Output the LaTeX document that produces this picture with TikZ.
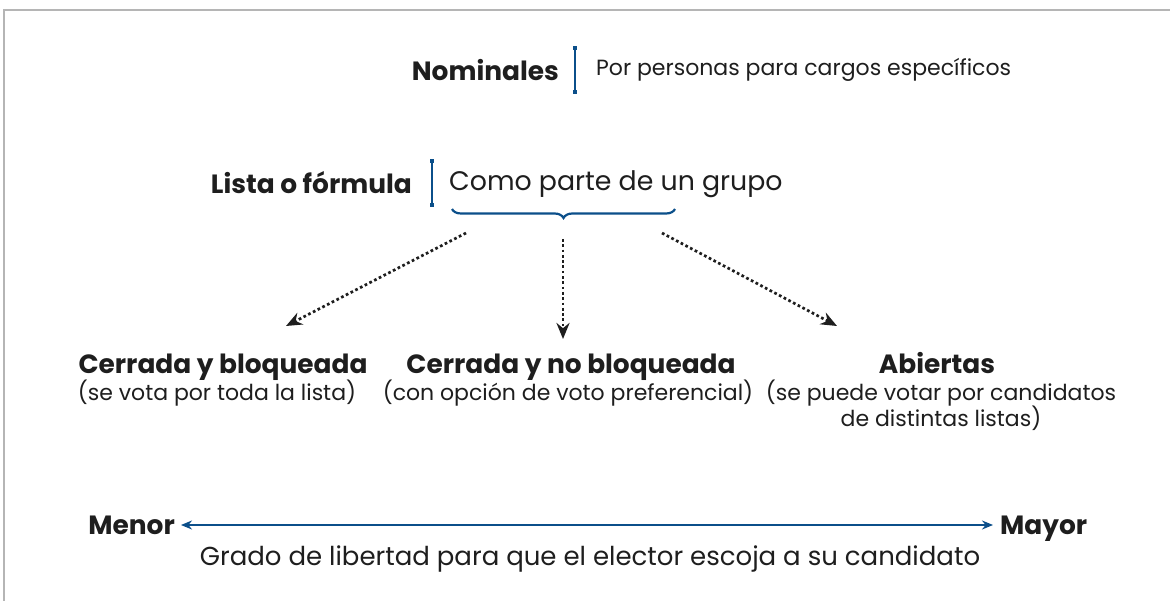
\documentclass[tikz,border=0pt]{standalone}
\usepackage{fontspec}
\setmainfont{Poppins}
\usetikzlibrary{arrows.meta,decorations.pathreplacing,calc}
\definecolor{navy}{HTML}{0B4F8A}
\definecolor{ink}{HTML}{1E1E1E}
\definecolor{frame}{HTML}{B5B5B5}
\tikzset{
  lbl/.style={inner sep=0pt, text=ink},
  boldlbl/.style={lbl, font=\bfseries\fontsize{26.4}{30}\selectfont},
  reglbl/.style={lbl, font=\fontsize{22}{25}\selectfont},
  bar/.style={draw=navy, line width=1.6pt},
  barend/.style={fill=navy, minimum size=4.5pt, inner sep=0pt, draw=none},
  dotarrow/.style={draw=ink, line width=2.7pt, dash pattern=on 2.7pt off 2.6pt, -{Stealth[length=16pt,width=13pt,fill=ink]}},
  scalearrow/.style={draw=navy, line width=2.2pt, {Stealth[length=11pt,width=9pt]}-{Stealth[length=11pt,width=9pt]}}
}
\begin{document}
\begin{tikzpicture}[x=1pt,y=-1pt]
\useasboundingbox (0,0) rectangle (1170,601);
\fill[white] (0,0) rectangle (1170,601);
\draw[frame, line width=2pt] (3.5,601) -- (3.5,10.5) -- (1170,10.5);

% Nominales
\node[boldlbl, anchor=east] (nom) at (559,70) {Nominales};
\coordinate (nb1) at (575,48);
\coordinate (nb2) at (575,92);
\draw[bar] (nb1) -- (nb2);
\node[barend] at (nb1) {};
\node[barend] at (nb2) {};
\node[reglbl, anchor=west] (nomd) at (596,70) {Por personas para cargos específicos};

% Lista o formula
\node[boldlbl, anchor=east] (lis) at (412,183) {Lista o fórmula};
\coordinate (lb1) at (432,161);
\coordinate (lb2) at (432,205);
\draw[bar] (lb1) -- (lb2);
\node[barend] at (lb1) {};
\node[barend] at (lb2) {};
\node[lbl, anchor=west, font=\fontsize{26.8}{31}\selectfont] (lisd) at (449,184) {Como parte de un grupo};

% brace
\coordinate (brl) at (452,209);
\coordinate (brr) at (675,209);
\draw[navy, line width=2.2pt, decorate, decoration={brace, mirror, amplitude=9pt, aspect=0.5}] (brl) -- (brr);

% options
\node[boldlbl, anchor=base] (c1) at (223,373.5) {Cerrada y bloqueada};
\node[reglbl, anchor=base] (c1d) at (217,401) {(se vota por toda la lista)};
\node[boldlbl, anchor=base] (c2) at (571,373.5) {Cerrada y no bloqueada};
\node[reglbl, anchor=base] (c2d) at (568,401) {(con opción de voto preferencial)};
\node[boldlbl, anchor=base] (c3) at (937,373.5) {Abiertas};
\node[reglbl, anchor=base] (c3d) at (941,401) {(se puede votar por candidatos};
\node[reglbl, anchor=base] (c3e) at (941,426) {de distintas listas)};

% dotted arrows
\coordinate (s1) at (466,233);
\coordinate (s2) at (563,239);
\coordinate (s3) at (662,233);
\coordinate (e1) at (286,326);
\coordinate (e2) at (563,339);
\coordinate (e3) at (837,326);
\draw[dotarrow] (s1) -- (e1);
\draw[dotarrow] (s2) -- (e2);
\draw[dotarrow] (s3) -- (e3);

% scale
\node[boldlbl, anchor=base east] (men) at (175,534.5) {Menor};
\node[boldlbl, anchor=base west] (may) at (1000,534.5) {Mayor};
\coordinate (a1) at (181,525);
\coordinate (a2) at (993,525);
\draw[scalearrow] (a1) -- (a2);
\node[lbl, anchor=base, font=\fontsize{26}{30}\selectfont] (grado) at (590,565) {Grado de libertad para que el elector escoja a su candidato};
\end{tikzpicture}
\end{document}
